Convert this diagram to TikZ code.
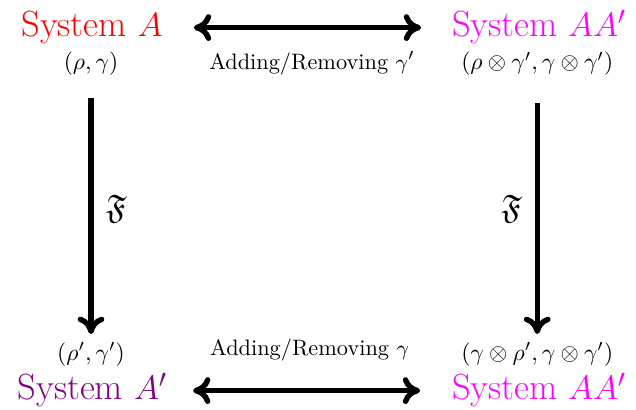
\documentclass[tikz,border=0pt]{standalone}
\usepackage{amssymb}
\usetikzlibrary{arrows.meta,positioning}
\definecolor{sysred}{RGB}{255,0,0}
\definecolor{sysmagenta}{RGB}{255,0,255}
\definecolor{syspurple}{RGB}{128,0,128}

\begin{document}
\begin{tikzpicture}[
  >={To[length=2.6mm, width=4mm]},
  sys/.style={anchor=base, font=\fontsize{15.5}{19}\selectfont, text height=10.5pt, text depth=2.5pt, inner sep=3.33pt},
  pair/.style={anchor=base, font=\normalsize},
  arrow/.style={->, line width=2.3pt},
  label/.style={font=\fontsize{9.5}{11}\selectfont},
  map/.style={font=\Large},
]
\useasboundingbox (0,0) rectangle (9.512,6.117);

% === SYSTEMS ===
\node[sys, text=sysred] (sA) at (1.376,5.564) {System $A$};
\node[sys, text=sysmagenta] (sAA) at (8.062,5.564) {System $AA'$};
\node[sys, text=syspurple] (sAp) at (1.383,0.135) {System $A'$};
\node[sys, text=sysmagenta] (sAAp) at (8.062,0.135) {System $AA'$};

% === STATES ===
\node[pair] (pA) at (1.361,5.071) {$(\rho,\gamma)$};
\node[pair] (pAA) at (8.035,5.071) {$(\rho\otimes\gamma',\gamma\otimes\gamma')$};
\node[pair] (pAp) at (1.361,0.733) {$(\rho',\gamma')$};
\node[pair] (pAAp) at (8.035,0.733) {$(\gamma\otimes\rho',\gamma\otimes\gamma')$};

% === ADDING / REMOVING ===
\draw[arrow, <->, shorten <=9.8pt, shorten >=9.6pt] (sA) -- node[label, below=5.5pt, xshift=2pt] {Adding/Removing $\gamma'$} (sAA);
\draw[arrow, <->, shorten <=7.5pt, shorten >=10pt] (sAp) -- node[label, above=8pt] {Adding/Removing $\gamma$} (sAAp);

% === MAP F ===
\draw[arrow, shorten <=6pt] (pA) -- node[map, right=2pt] {$\mathfrak{F}$} (pAp);
\draw[arrow, shorten <=8pt] (pAA) -- node[map, left=2pt] {$\mathfrak{F}$} (pAAp);
\end{tikzpicture}
\end{document}
